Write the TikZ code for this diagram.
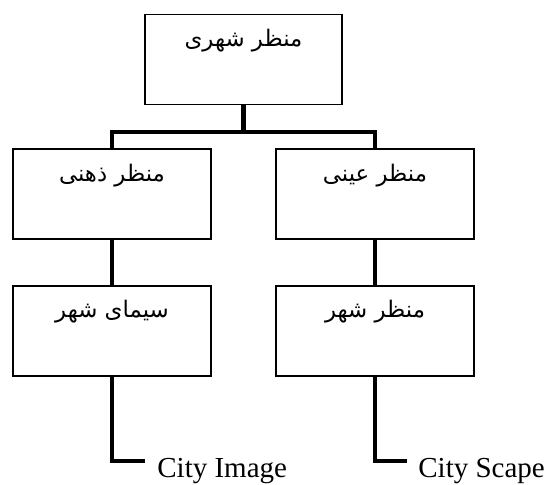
\documentclass[tikz,border=0pt]{standalone}
\usepackage{fontspec}
\setmainfont{Liberation Serif}
\newfontfamily\arabicfont[Script=Arabic]{DejaVu Sans}
\TeXXeTstate=1
\usetikzlibrary{positioning}

\begin{document}
\begin{tikzpicture}[x=0.02cm, y=-0.02cm, node distance=0.9cm,
          box/.style={draw, line width=1.1pt, inner sep=0pt,
                      minimum width=3.95cm, text height=0.64cm, text depth=1.16cm,
                      font=\arabicfont\fontsize{13}{15}\selectfont},
          conn/.style={line width=2.8pt},
          tag/.style={anchor=base west, inner sep=0pt,
                      font=\fontsize{16.5}{20}\selectfont}]
        \useasboundingbox (0,0) rectangle (550,484);
        \node[box] (city) at (243.5,59.5) {\beginR منظر شهری\endR};
        \node[box] (mental) at (112,194) {\beginR منظر ذهنی\endR};
        \node[box] (objective) at (375,194) {\beginR منظر عینی\endR};
        \node[box, below=of mental] (image) {\beginR سیمای شهر\endR};
        \node[box, below=of objective] (scape) {\beginR منظر شهر\endR};
        \node[tag] (imagetxt) at (157,477) {City Image};
        \node[tag] (scapetxt) at (418,477) {City Scape};
        \coordinate (bus) at (243.5,132);
        \coordinate (imageend) at (145,461);
        \coordinate (scapeend) at (407,461);
        \draw[conn] (city.south) -- (bus);
        \draw[conn] (mental.north) |- (bus) -| (objective.north);
        \draw[conn] (mental) -- (image);
        \draw[conn] (objective) -- (scape);
        \draw[conn] (image.south) |- (imageend);
        \draw[conn] (scape.south) |- (scapeend);
      \end{tikzpicture}
\end{document}
